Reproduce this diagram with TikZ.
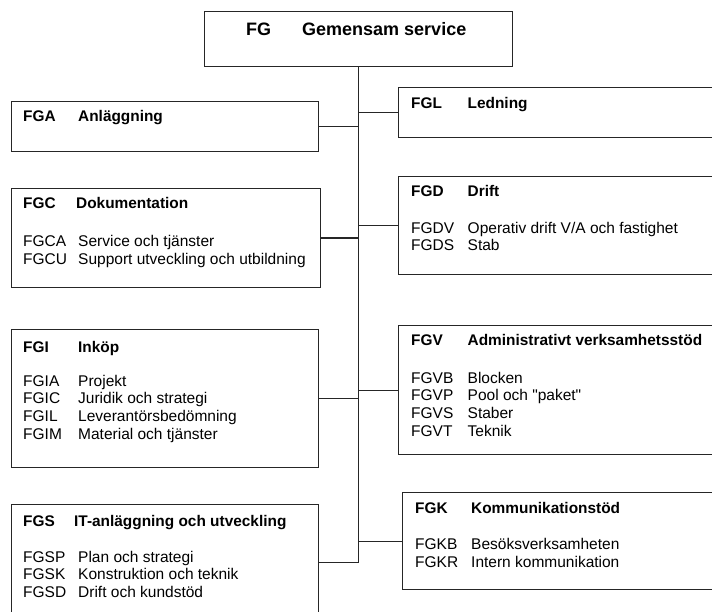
\documentclass[tikz,border=0pt]{standalone}
\usepackage{fontspec}
% plain family without TeX input mapping, so " stays a straight quote
\newfontfamily\orgfont{Liberation Sans}
\begin{document}
\begin{tikzpicture}[x=1pt,y=-1pt,
  box/.style={draw=black!85,line width=1.2pt,rectangle,inner sep=0pt,anchor=north west},
  txt/.style={anchor=base west,inner sep=0pt,font=\orgfont\fontsize{15.5}{17.8}\selectfont},
  head/.style={txt,font=\orgfont\fontsize{15.4}{17.8}\selectfont\bfseries},
  title/.style={anchor=base west,inner sep=0pt,font=\orgfont\fontsize{18}{21}\selectfont\bfseries},
  link/.style={draw=black!85,line width=1.2pt}]
\useasboundingbox (0,0) rectangle (712,612);
\clip (0,0) rectangle (712,612);

% top unit
\node[box,minimum width=308pt,minimum height=55pt] (fg) at (204,11) {};
\node[title] (fg-code) at (246,36) {FG};
\node[title] (fg-name) at (302,36) {Gemensam service};

% left column
\node[box,minimum width=307pt,minimum height=50pt] (fga) at (11,101) {};
\node[head] (fga-code) at (23,122) {FGA};
\node[head] (fga-name) at (78,122) {Anläggning};

\node[box,minimum width=309pt,minimum height=99pt] (fgc) at (11,188) {};
\node[head] (fgc-code) at (23,209) {FGC};
\node[head] (fgc-name) at (76,209) {Dokumentation};
\node[txt] (fgca-code) at (23,247) {FGCA};
\node[txt] (fgca-name) at (78,247) {Service och tjänster};
\node[txt] (fgcu-code) at (23,264.5) {FGCU};
\node[txt] (fgcu-name) at (78,264.5) {Support utveckling och utbildning};

\node[box,minimum width=307pt,minimum height=138pt] (fgi) at (11,329) {};
\node[head] (fgi-code) at (23,352) {FGI};
\node[head] (fgi-name) at (78,352) {Inköp};
\node[txt] (fgia-code) at (23,386) {FGIA};
\node[txt] (fgia-name) at (78,386) {Projekt};
\node[txt] (fgic-code) at (23,403.7) {FGIC};
\node[txt] (fgic-name) at (78,403.7) {Juridik och strategi};
\node[txt] (fgil-code) at (23,421.4) {FGIL};
\node[txt] (fgil-name) at (78,421.4) {Leverantörsbedömning};
\node[txt] (fgim-code) at (23,439.1) {FGIM};
\node[txt] (fgim-name) at (78,439.1) {Material och tjänster};

\node[box,minimum width=307pt,minimum height=116pt] (fgs) at (11,504) {};
\node[head] (fgs-code) at (23,526.5) {FGS};
\node[head] (fgs-name) at (74,526.5) {IT-anläggning och utveckling};
\node[txt] (fgsp-code) at (23,562) {FGSP};
\node[txt] (fgsp-name) at (78,562) {Plan och strategi};
\node[txt] (fgsk-code) at (23,579.5) {FGSK};
\node[txt] (fgsk-name) at (78,579.5) {Konstruktion och teknik};
\node[txt] (fgsd-code) at (23,597) {FGSD};
\node[txt] (fgsd-name) at (78,597) {Drift och kundstöd};

% right column
\node[box,minimum width=330pt,minimum height=50pt] (fgl) at (398,87) {};
\node[head] (fgl-code) at (411,108.5) {FGL};
\node[head] (fgl-name) at (467.5,108.5) {Ledning};

\node[box,minimum width=330pt,minimum height=98pt] (fgd) at (398,176) {};
\node[head] (fgd-code) at (411,196.5) {FGD};
\node[head] (fgd-name) at (467.5,196.5) {Drift};
\node[txt] (fgdv-code) at (411,233.5) {FGDV};
\node[txt] (fgdv-name) at (467.5,233.5) {Operativ drift V/A och fastighet};
\node[txt] (fgds-code) at (411,251) {FGDS};
\node[txt] (fgds-name) at (467.5,251) {Stab};

\node[box,minimum width=330pt,minimum height=129pt] (fgv) at (398,325) {};
\node[head] (fgv-code) at (411,345.5) {FGV};
\node[head] (fgv-name) at (467.5,345.5) {Administrativt verksamhetsstöd};
\node[txt] (fgvb-code) at (411,383) {FGVB};
\node[txt] (fgvb-name) at (467.5,383) {Blocken};
\node[txt] (fgvp-code) at (411,400.8) {FGVP};
\node[txt] (fgvp-name) at (467.5,400.8) {Pool och "paket"};
\node[txt] (fgvs-code) at (411,418.6) {FGVS};
\node[txt] (fgvs-name) at (467.5,418.6) {Staber};
\node[txt] (fgvt-code) at (411,436.4) {FGVT};
\node[txt] (fgvt-name) at (467.5,436.4) {Teknik};

\node[box,minimum width=326pt,minimum height=97pt] (fgk) at (402,492) {};
\node[head] (fgk-code) at (415,513) {FGK};
\node[head] (fgk-name) at (471,513) {Kommunikationstöd};
\node[txt] (fgkb-code) at (415,549.5) {FGKB};
\node[txt] (fgkb-name) at (471,549.5) {Besöksverksamheten};
\node[txt] (fgkr-code) at (415,567) {FGKR};
\node[txt] (fgkr-name) at (471,567) {Intern kommunikation};

% spine and branches
\draw[link] (fg.south) -- (fg.south |- fgs.east) -- (fgs.east);
\foreach \b in {fga,fgc,fgi}
  \draw[link] (\b.east) -- (\b.east -| fg.south);
\foreach \b in {fgl,fgd,fgv,fgk}
  \draw[link] (\b.west) -- (\b.west -| fg.south);
\end{tikzpicture}
\end{document}
